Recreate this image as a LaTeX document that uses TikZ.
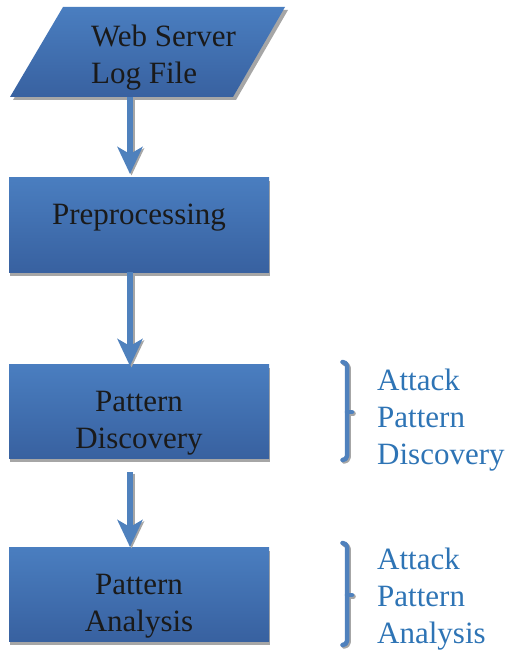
\documentclass[tikz,border=0pt]{standalone}
\usepackage{fontspec}
\setmainfont{Liberation Serif}
\newfontfamily\timesfont{Liberation Serif}
\usetikzlibrary{arrows.meta}
\definecolor{boxtop}{HTML}{4A7EC0}
\definecolor{boxbot}{HTML}{3861A0}
\definecolor{arrowblue}{HTML}{4F81BD}
\definecolor{shadowgray}{HTML}{A6A6A6}
\definecolor{labelblue}{HTML}{2E74B5}
\definecolor{darktext}{HTML}{1A1A1A}
\tikzset{
  boxshade/.style={top color=boxtop, bottom color=boxbot, draw=none},
  boxshadow/.style={fill=shadowgray, draw=none},
  boxtext/.style={font=\timesfont\fontsize{31}{37}\selectfont, text=darktext, align=center, inner sep=0pt},
  sidetext/.style={font=\timesfont\fontsize{31}{37}\selectfont, text=labelblue, align=left, inner sep=0pt, anchor=west},
  flowarrow/.style={draw=arrowblue, line width=6pt, -{Stealth[length=27pt, width=25pt, inset=7pt]}},
  flowshadow/.style={draw=shadowgray, line width=6pt, -{Stealth[length=27pt, width=25pt, inset=7pt]}},
  bracestyle/.style={draw=arrowblue, line width=4.5pt, line cap=round, line join=round},
  braceshadow/.style={draw=shadowgray, line width=4.5pt, line cap=round, line join=round},
}
\begin{document}
\begin{tikzpicture}[x=1pt, y=-1pt]
\useasboundingbox (0,0) rectangle (508,650);
% parallelogram
\fill[boxshadow] (66,10) -- (288,10) -- (236,100) -- (13,100) -- cycle;
\shade[boxshade] (63,7) -- (285,7) -- (233,97) -- (10,97) -- cycle;
\node[boxtext, align=left, anchor=west] (log) at (91,58) {Web Server\\Log File};
% boxes
\fill[boxshadow] (10,181) rectangle (270,276);
\shade[boxshade] (9,177) rectangle (269,272);
\node[draw=none, minimum width=260pt, minimum height=95pt, inner sep=0pt] (pre) at (139,224.5) {};
\node[boxtext] (pretext) at (139,218) {Preprocessing};

\fill[boxshadow] (10,368) rectangle (270,462);
\shade[boxshade] (9,364) rectangle (269,458);
\node[draw=none, minimum width=260pt, minimum height=94pt, inner sep=0pt] (disc) at (139,411) {};
\node[boxtext] (disctext) at (139,423) {Pattern\\Discovery};

\fill[boxshadow] (10,551) rectangle (270,645);
\shade[boxshade] (9,547) rectangle (269,641);
\node[draw=none, minimum width=260pt, minimum height=94pt, inner sep=0pt] (ana) at (139,594) {};
\node[boxtext] (anatext) at (139,606) {Pattern\\Analysis};

% arrows
\coordinate (a1s) at (130,97);
\coordinate (a1e) at (130,174);
\coordinate (a2s) at (130,272);
\coordinate (a2e) at (130,366);
\coordinate (a3s) at (130,472);
\coordinate (a3e) at (130,547);
\foreach \s/\e in {a1s/a1e, a2s/a2e, a3s/a3e}{
  \draw[flowshadow] ([shift={(1.5,1.5)}]\s) -- ([shift={(1.5,1.5)}]\e);
  \draw[flowarrow] (\s) -- (\e);
}

% braces
\foreach \t/\b/\m in {362/460/412, 543/645/595}{
  \draw[braceshadow] (344,\t+1.5) to[out=0,in=90] (348.5,\t+5.5) -- (348.5,\b-2.5) to[out=-90,in=0] (344,\b+1.5);
  \draw[braceshadow] (348.5,\m+1.5) -- (353.5,\m+1.5);
  \draw[bracestyle] (342.5,\t) to[out=0,in=90] (347,\t+4) -- (347,\b-4) to[out=-90,in=0] (342.5,\b);
  \draw[bracestyle] (347,\m) -- (352,\m);
}
\node[sidetext] (side1) at (377,420) {Attack\\Pattern\\Discovery};
\node[sidetext] (side2) at (377,599) {Attack\\Pattern\\Analysis};
\end{tikzpicture}
\end{document}
